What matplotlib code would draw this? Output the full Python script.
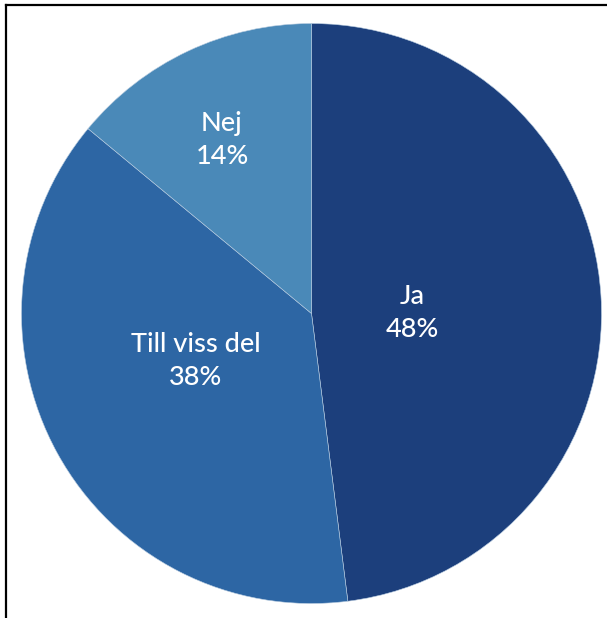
import matplotlib
matplotlib.use("Agg")
import matplotlib.pyplot as plt
from matplotlib.lines import Line2D
import numpy as np

categories = ["Ja", "Till viss del", "Nej"]
values = [48, 38, 14]
colors = ["#1c3f7c", "#2d66a4", "#4a89b8"]
label_r = [0.347, 0.431, 0.673]
label_shift = [3.4, 6.4, -2.1]

W, H = 607, 618
fig = plt.figure(figsize=(W / 100, H / 100), dpi=100)
ax = fig.add_axes([0, 0, 1, 1])
ax.set_xlim(0, W)
ax.set_ylim(H, 0)
ax.set_aspect("equal")
ax.axis("off")

cx, cy, R = 311.5, 313.5, 290
wedges, _ = ax.pie(values, colors=colors, startangle=-90, counterclock=True,
                   center=(cx, cy), radius=R, frame=True,
                   wedgeprops=dict(edgecolor="#b8cce0", linewidth=0.4))
ax.set_xlim(0, W)
ax.set_ylim(H, 0)
ax.axis("off")

for w, cat, v, fr, sh in zip(wedges, categories, values, label_r, label_shift):
    ang = np.deg2rad((w.theta1 + w.theta2) / 2 + sh)
    x = cx + fr * R * np.cos(ang)
    y = cy + fr * R * np.sin(ang)
    ax.text(x, y, f"{cat}\n{v}%", ha="center", va="center", color="white",
            fontsize=19.5, family="Lato", weight="medium", linespacing=1.4)

fig.add_artist(Line2D([6 / W, 6 / W], [0, 1 - 5 / H], transform=fig.transFigure,
                      color="black", linewidth=1.6))
fig.add_artist(Line2D([6 / W, 1], [1 - 5 / H, 1 - 5 / H], transform=fig.transFigure,
                      color="black", linewidth=1.6))

fig.savefig("out.png", dpi=100)
